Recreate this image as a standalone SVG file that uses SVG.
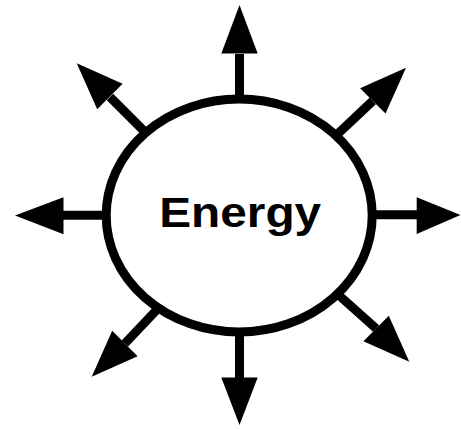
<svg xmlns="http://www.w3.org/2000/svg" width="461" height="429" viewBox="0 0 461 429">
  <style>
    .shaft { stroke: #000; stroke-width: 9; fill: none; }
    .head { fill: #000; stroke: none; }
    .node { fill: #fff; stroke: #000; stroke-width: 9; }
    .label { font-family: "Liberation Sans", Arial, Helvetica, sans-serif; font-weight: bold; font-size: 42px; fill: #000; }
  </style>
  <rect width="461" height="429" fill="#fff"/>
  <g id="connectors">
    <line class="shaft" x1="239.5" y1="150" x2="239.5" y2="54"/>
    <polygon class="head" points="239.5,5 257.7,53.5 221.3,53.5"/>
    <line class="shaft" x1="239.5" y1="280" x2="239.5" y2="378"/>
    <polygon class="head" points="239.5,425 257.7,377.5 221.3,377.5"/>
    <line class="shaft" x1="160" y1="215.3" x2="63" y2="215.3"/>
    <polygon class="head" points="15,215.5 63.5,197.3 63.5,234.3"/>
    <line class="shaft" x1="320" y1="214.8" x2="417" y2="214.8"/>
    <polygon class="head" points="460.5,215 416.7,197.3 416.7,234"/>
    <line class="shaft" x1="170" y1="157" x2="110" y2="97"/>
    <polygon class="head" points="76.7,63.3 122.6,83.8 97.2,109.2"/>
    <line class="shaft" x1="310" y1="160" x2="372.8" y2="100.9"/>
    <polygon class="head" points="406,67.7 385.5,113.6 360.1,88.2"/>
    <line class="shaft" x1="185" y1="280" x2="124.9" y2="343.5"/>
    <polygon class="head" points="91.7,376.7 137.6,356.2 112.2,330.8"/>
    <line class="shaft" x1="305" y1="265" x2="376.1" y2="328.5"/>
    <polygon class="head" points="409.3,361.7 388.8,315.8 363.4,341.2"/>
  </g>
  <g id="energy">
    <ellipse class="node" cx="239.2" cy="215.5" rx="133" ry="116.5"/>
    <text class="label" x="240.2" y="226.7" text-anchor="middle" textLength="162" lengthAdjust="spacingAndGlyphs">Energy</text>
  </g>
</svg>
